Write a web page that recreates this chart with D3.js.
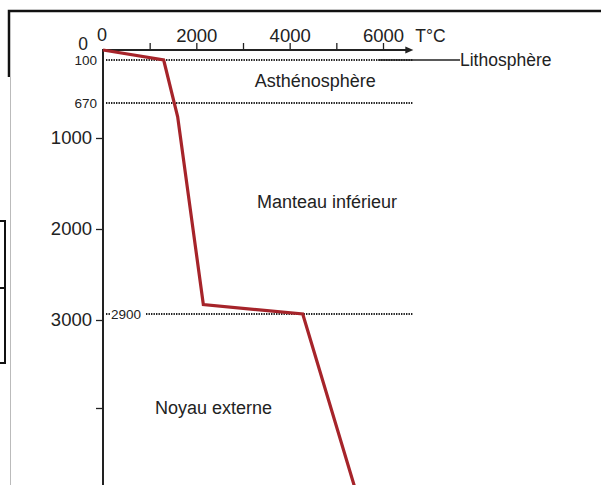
<!DOCTYPE html>
<html>
<head>
<meta charset="UTF-8">
<script src="https://d3js.org/d3.v7.min.js"></script>
<style>
	body { margin: 0; background: #fff; }
	svg { display: block; font-family: "Liberation Sans", Arial, sans-serif; }
</style>
</head>
<body>
<div id="chart"></div>
<script>
	// temperature axis (°C)
	let tempTicks = [0, 1000, 2000, 3000, 4000, 5000, 6000];
	let tempLabels = [2000, 4000, 6000];
	// depth axis (km)
	let depthTicks = [1000, 2000, 3000, 4000];
	let depthLabels = [1000, 2000, 3000];
	let boundaries = [100, 670, 2900];
	// geotherm profile
	let profileDepth = [0, 100, 800, 2800, 2900, 5000];
	let profileTemp = [0, 1300, 1600, 2150, 4280, 5450];
	// layer names
	let layerNames = ["Asthénosphère", "Manteau inférieur", "Noyau externe"];
	let layerDepth = [380, 1700, 4000];
	let layerTemp = [4550, 4800, 2370];

	let width = 601;
	let height = 485;
	let svg = d3.select("#chart").append("svg")
		.attr("width", width)
		.attr("height", height);

	// schematic scale: not linear near the surface, like the drawing
	let x = d3.scaleLinear().domain([0, 6000]).range([103, 383]);
	let y = d3.scaleLinear()
		.domain([0, 100, 670, 1000, 2000, 2900, 3000, 4000])
		.range([50, 60, 103, 138, 229, 314, 320, 408]);
	let xEnd = x(6650);

	// screenshot frame remains
	svg.append("path").attr("d", "M9,77V11H601").attr("fill", "none").attr("stroke", "#111").attr("stroke-width", 2.5);
	svg.append("line").attr("x1", 10.5).attr("x2", 10.5).attr("y1", 77).attr("y2", height).attr("stroke", "#bbb");
	svg.append("path").attr("d", "M-2,221H5V363H-2M-2,288H5").attr("fill", "none").attr("stroke", "#111").attr("stroke-width", 2);

	// boundary dotted lines
	boundaries.forEach(d => {
		let x0 = d === 2900 ? x(0) + 43 : x(0) + 3;
		svg.append("line")
			.attr("x1", x0).attr("x2", xEnd)
			.attr("y1", y(d)).attr("y2", y(d))
			.attr("stroke", "#222").attr("stroke-width", 1.8)
			.attr("stroke-dasharray", "1.4,1.1");
	});
	svg.append("line")
		.attr("x1", x(0) + 3).attr("x2", x(0) + 7)
		.attr("y1", y(2900)).attr("y2", y(2900))
		.attr("stroke", "#222").attr("stroke-width", 1.8)
		.attr("stroke-dasharray", "1.4,1.1");
	svg.append("text")
		.attr("x", x(0) + 8).attr("y", y(2900) + 5)
		.attr("font-size", 13.5).attr("fill", "#222")
		.text("2900");

	// small depth labels
	svg.selectAll(".small")
		.data([100, 670])
		.join("text")
		.attr("class", "small")
		.attr("x", x(0) - 6)
		.attr("y", d => y(d) + 5)
		.attr("text-anchor", "end")
		.attr("font-size", 13.5)
		.attr("fill", "#222")
		.text(d => d);

	// Lithosphère leader
	svg.append("line")
		.attr("x1", x(5900)).attr("x2", 460)
		.attr("y1", y(100)).attr("y2", y(100))
		.attr("stroke", "#222").attr("stroke-width", 1.5);
	svg.append("text")
		.attr("x", 460).attr("y", y(100) + 6)
		.attr("font-size", 17.5).attr("fill", "#222")
		.text("Lithosphère");

	// x axis
	let xAxis = svg.append("g")
		.attr("transform", `translate(0,${y(0)})`)
		.call(d3.axisTop(x)
			.tickValues(tempTicks)
			.tickSize(7)
			.tickPadding(1)
			.tickFormat(d => tempLabels.includes(d) ? d : ""));
	xAxis.select(".domain").remove();
	xAxis.selectAll(".tick line").attr("stroke", "#222").attr("stroke-width", 1.3);
	xAxis.selectAll(".tick text").attr("font-size", 18.5).attr("fill", "#222").attr("font-family", null);
	xAxis.selectAll(".tick").filter(d => d === 0).select("line").remove();
	svg.append("line")
		.attr("x1", x(0)).attr("x2", xEnd - 4)
		.attr("y1", y(0)).attr("y2", y(0))
		.attr("stroke", "#222").attr("stroke-width", 2);
	svg.append("path")
		.attr("d", `M${xEnd},${y(0)}l-8,-3.5v7z`)
		.attr("fill", "#222");
	svg.append("text")
		.attr("x", xEnd + 2).attr("y", y(0) - 8)
		.attr("font-size", 17.5).attr("fill", "#222")
		.text("T°C");
	svg.append("text")
		.attr("x", x(0) - 6).attr("y", y(0) - 9)
		.attr("font-size", 18).attr("fill", "#222")
		.text("0");

	// y axis
	let yAxis = svg.append("g")
		.attr("transform", `translate(${x(0)},0)`)
		.call(d3.axisLeft(y)
			.tickValues(depthTicks)
			.tickSize(7)
			.tickPadding(4)
			.tickFormat(d => depthLabels.includes(d) ? d : ""));
	yAxis.select(".domain").remove();
	yAxis.selectAll(".tick line").attr("stroke", "#222").attr("stroke-width", 1.3);
	yAxis.selectAll(".tick text").attr("font-size", 18.5).attr("fill", "#222").attr("font-family", null);
	svg.append("line")
		.attr("x1", x(0)).attr("x2", x(0))
		.attr("y1", y(0) - 1).attr("y2", height)
		.attr("stroke", "#222").attr("stroke-width", 2);
	svg.append("text")
		.attr("x", x(0) - 15).attr("y", y(0))
		.attr("text-anchor", "end")
		.attr("font-size", 17.5).attr("fill", "#222")
		.text("0");

	// layer names
	svg.selectAll(".layer")
		.data(layerNames)
		.join("text")
		.attr("class", "layer")
		.attr("x", (d, i) => x(layerTemp[i]))
		.attr("y", (d, i) => y(layerDepth[i]) + 6)
		.attr("text-anchor", "middle")
		.attr("font-size", 18)
		.attr("fill", "#222")
		.text(d => d);

	// geotherm
	let line = d3.line()
		.x(d => x(d[1]))
		.y(d => y(d[0]));
	svg.append("path")
		.datum(profileDepth.map((d, i) => [d, profileTemp[i]]))
		.attr("d", line)
		.attr("fill", "none")
		.attr("stroke", "#a6242a")
		.attr("stroke-width", 3.2)
		.attr("stroke-linejoin", "miter");
</script>
</body>
</html>
